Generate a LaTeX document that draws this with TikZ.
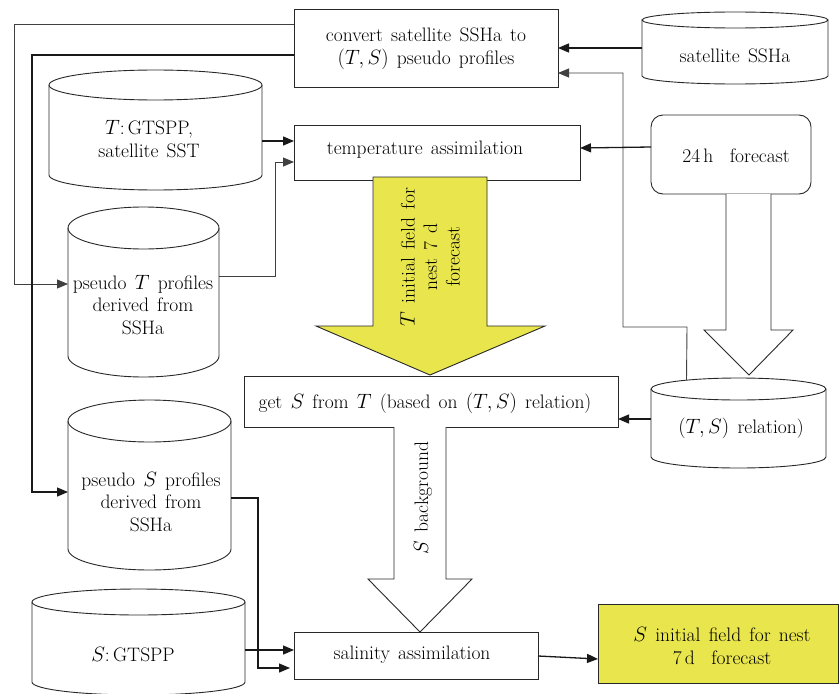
\documentclass[tikz,border=0pt]{standalone}
\usetikzlibrary{arrows.meta,calc}
\definecolor{lc}{RGB}{40,40,40}
\definecolor{yel}{RGB}{233,230,77}
\newcommand{\mytext}{\fontsize{19.5}{22.5}\selectfont\spaceskip=0.42em plus 0.1em\relax}
\newcommand{\mycyl}[6]{%
  \pgfmathsetmacro\cxa{(#2+#4)/2}%
  \pgfmathsetmacro\rxa{(#4-#2)/2}%
  \node[inner sep=0pt, outer sep=0pt, minimum width={(#4-#2)*1pt}, minimum height={(#5-#3)*1pt}] (#1) at (\cxa,{(#3+#5)/2}) {};
  \draw[cylline] (#2,#3+#6) -- (#2,#5-#6) arc[start angle=180,end angle=360,x radius=\rxa pt,y radius=#6 pt] -- (#4,#3+#6);
  \draw[cylline] (\cxa,#3+#6) ellipse[x radius=\rxa pt, y radius=#6 pt];
}
\tikzset{
  cylline/.style={draw=lc, line width=0.9pt},
  box/.style={draw=lc, line width=0.9pt, inner sep=0pt, outer sep=0pt},
  txt/.style={font=\mytext, align=center, inner sep=0pt, text=black},
  arr/.style={draw=black!90, line width=1.3pt, -{Triangle[length=11pt,width=9pt]}},
  thinarr/.style={draw=black!75, line width=0.9pt, -{Triangle[length=11pt,width=9pt]}},
  bigarrow/.style={draw=lc, line width=0.9pt, fill=white},
}
\begin{document}
\begin{tikzpicture}[x=1pt,y=-1pt]
\useasboundingbox (0,0) rectangle (840,693);
\fill[white] (0,0) rectangle (840,693);

% boxes
\node[box, minimum width=264pt, minimum height=78pt] (conv) at (426,48) {};
\node[txt] (convt) at (426,49) {convert satellite SSHa to\\$(T,S)$ pseudo profiles};

\node[box, minimum width=286pt, minimum height=55pt] (temp) at (437,152.5) {};
\node[txt] (tempt) at (425,150) {temperature assimilation};

\node[box, rounded corners=12pt, minimum width=160pt, minimum height=79pt] (fc) at (731,154.5) {};
\node[txt] (fct) at (736,156) {24\,h\ \ forecast};

% cylinders
\mycyl{sat}{642}{12}{828}{84}{8}
\node[txt] (satt) at (735,56) {satellite SSHa};

\mycyl{tgc}{49}{70}{262}{190}{15}
\node[txt] (tgct) at (149,139) {$T$:\,GTSPP,\\satellite SST};

\mycyl{ptc}{68}{207}{219}{377}{21}
\node[txt] (ptct) at (143,305) {pseudo $T$ profiles\\derived from\\SSHa};

\mycyl{tsr}{651}{378}{826}{468}{11}
\node[txt] (tsrt) at (741,428) {$(T,S)$ relation)};

\mycyl{psc}{68}{400}{231}{570}{21}
\node[txt] (psct) at (151,502) {pseudo $S$ profiles\\derived from\\SSHa};

\mycyl{sgc}{32}{589}{245}{695}{13}
\node[txt] (sgct) at (133,655) {$S$:\,GTSPP};

% big arrows
\draw[bigarrow] (726,194) -- (726,330) -- (704,330) -- (749,375) -- (793,330) -- (771,330) -- (771,194);
\draw[bigarrow, fill=yel] (373,177) -- (373,326) -- (316,326) -- (430,375) -- (545,326) -- (487,326) -- (487,177) -- cycle;
\node[txt, rotate=90] (yelt) at (430,257) {$T$ initial field for\\nest 7 d\\forecast};

% boxes over arrows
\node[box, fill=white, minimum width=374pt, minimum height=51pt] (gets) at (431,401.5) {};
\node[txt] (getst) at (425,403) {get $S$ from $T$ (based on $(T,S)$ relation)};

\draw[bigarrow] (394,427) -- (394,579) -- (368,579) -- (420,632) -- (472,579) -- (446,579) -- (446,427);
\node[txt, rotate=90] (sbt) at (423,498) {$S$ background};

\node[box, fill=white, minimum width=244pt, minimum height=47pt] (sal) at (416,655.5) {};
\node[txt] (salt) at (412,655) {salinity assimilation};

\node[box, fill=yel, minimum width=240pt, minimum height=79pt] (sinit) at (718,643.5) {};
\node[txt] (sinitt) at (722,646) {$S$ initial field for nest\\7\,d\ \ forecast};

% connectors
\draw[arr] (sat.west |- 0,48) -- (conv.east |- 0,48);
\draw[thinarr] ([xshift=-52pt,yshift=-2pt]tsr.north) -- (687,327) -- (623,327) -- (623,73) -- (conv.east |- 0,73);
\draw[thinarr] (conv.west |- 0,24) -- (14,24) -- (14,284) -- (ptc.west |- 0,284);
\draw[arr] (conv.west |- 0,55) -- (32,55) -- (32,492) -- (psc.west |- 0,492);
\draw[arr] (tgc.east |- 0,141) -- (temp.west |- 0,141);
\draw[thinarr] (ptc.east |- 0,276) -- (275,276) -- (275,162) -- (temp.west |- 0,162);
\draw[arr] (fc.west |- 0,147) -- (temp.east |- 0,148);
\draw[arr] (tsr.west |- 0,419) -- (gets.east |- 0,419);
\draw[arr] (sgc.east |- 0,650) -- (sal.west |- 0,650);
\draw[arr] (psc.east |- 0,498) -- (258,498) -- (258,668) -- ([xshift=-4pt]sal.west |- 0,668);
\draw[arr] (sal.east |- 0,656) -- (sinit.west |- 0,659);
\end{tikzpicture}
\end{document}
